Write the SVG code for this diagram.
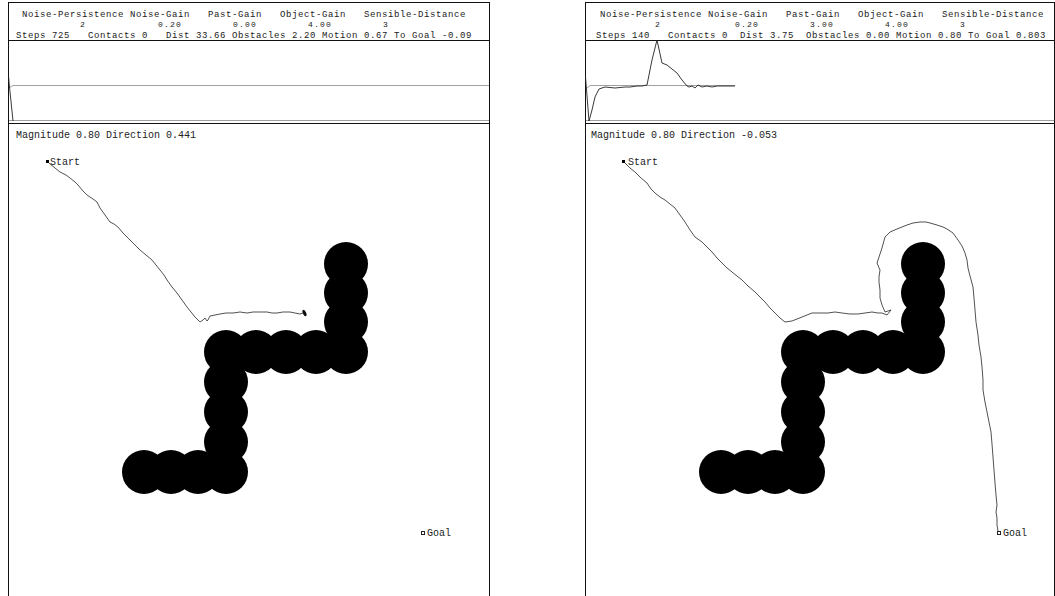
<svg xmlns="http://www.w3.org/2000/svg" width="1055" height="596" viewBox="0 0 1055 596">
<style>
.t{font-family:"Liberation Mono","DejaVu Sans Mono",monospace;font-size:10px;fill:#222;white-space:pre}
.h1{font-size:9px;letter-spacing:0.6px}
.h2{font-size:8px;letter-spacing:1.2px}
.h3{font-size:9px;letter-spacing:0.6px}
.frame{fill:none;stroke:#111;stroke-width:1}
.axis{fill:none;stroke:#a0a0a0;stroke-width:1}
.trace{fill:none;stroke:#222;stroke-width:0.9}
.path{fill:none;stroke:#333;stroke-width:0.85;stroke-linejoin:round}
.obs{fill:#000}
</style>
<defs>
<g id="obstacles">
<circle cx="346" cy="264" r="22"/><circle cx="346" cy="293" r="22"/><circle cx="346" cy="322" r="22"/><circle cx="346" cy="352" r="22"/>
<circle cx="316" cy="352" r="22"/><circle cx="286" cy="352" r="22"/><circle cx="256" cy="352" r="22"/><circle cx="226" cy="352" r="22"/>
<circle cx="226" cy="382" r="22"/><circle cx="226" cy="412" r="22"/><circle cx="226" cy="442" r="22"/><circle cx="226" cy="472" r="22"/>
<circle cx="198" cy="472" r="22"/><circle cx="171" cy="472" r="22"/><circle cx="144" cy="472" r="22"/>
</g>
</defs>
<rect width="1055" height="596" fill="#fff"/>

<g id="panel-left">
<rect class="frame" x="8.5" y="2.5" width="481" height="600"/>
<line class="frame" x1="8" y1="40.5" x2="490" y2="40.5"/>
<line class="frame" x1="8" y1="123.5" x2="490" y2="123.5"/>
<text class="t h1" x="22" y="17">Noise-Persistence Noise-Gain   Past-Gain   Object-Gain   Sensible-Distance</text>
<text class="t h2" x="80" y="26.5">2</text>
<text class="t h2" x="158" y="26.5">0.20</text>
<text class="t h2" x="233" y="26.5">0.00</text>
<text class="t h2" x="308" y="26.5">4.00</text>
<text class="t h2" x="383" y="26.5">3</text>
<text class="t h3" x="16" y="37.5">Steps 725   Contacts 0   Dist 33.66 Obstacles 2.20 Motion 0.67 To Goal -0.09</text>
<g id="graph-left">
<line class="axis" x1="9" y1="120.5" x2="489" y2="120.5"/>
<polyline class="axis" points="9,88 13,85.5 489,85.5"/>
<polyline class="trace" points="8.5,76 9.5,87 13,121"/>
</g>
<text class="t" x="16" y="138">Magnitude 0.80 Direction 0.441</text>
<use href="#obstacles" class="obs"/>
<g id="start-left"><rect x="46" y="160" width="3" height="3" fill="#000"/><text class="t" x="50" y="165">Start</text></g>
<g id="goal-left"><rect x="421.5" y="531.5" width="3" height="3" fill="none" stroke="#222" stroke-width="1"/><text class="t" x="427" y="536">Goal</text></g>
<polyline class="path" points="49,163 55,168 60,172 66,175 70,178 75,182 78,185 83,191 87,195 93,199 97,202 100,208 105,215 110,222 114,224 118,227 123,233 128,238 134,244 140,250 146,255 152,260 156,265 160,270 164,275 167,280 172,287 177,293 182,300 187,307 191,312 195,317 200,322 203,320 205,318 207,321 208,320 210,316 215,315 220,314 226,313 233,313 240,312 247,313 253,312 260,312 267,312 272,313 277,313 283,312 290,312 295,313 300,314 303,313"/>
<ellipse cx="304.5" cy="313" rx="1.6" ry="3.4" transform="rotate(-25 304.5 313)" fill="#111"/>
</g>

<g id="panel-right">
<rect class="frame" x="585.5" y="2.5" width="469" height="600"/>
<line class="frame" x1="585" y1="40.5" x2="1055" y2="40.5"/>
<line class="frame" x1="585" y1="123.5" x2="1055" y2="123.5"/>
<text class="t h1" x="600" y="17">Noise-Persistence Noise-Gain   Past-Gain   Object-Gain   Sensible-Distance</text>
<text class="t h2" x="655" y="26.5">2</text>
<text class="t h2" x="735" y="26.5">0.20</text>
<text class="t h2" x="810" y="26.5">3.00</text>
<text class="t h2" x="885" y="26.5">4.00</text>
<text class="t h2" x="960" y="26.5">3</text>
<text class="t h3" x="596" y="37.5">Steps 140   Contacts 0  Dist 3.75  Obstacles 0.00 Motion 0.80 To Goal 0.803</text>
<g id="graph-right">
<line class="axis" x1="586" y1="120.5" x2="1054" y2="120.5"/>
<polyline class="axis" points="587,88 590,85.5 735,85.5"/>
<polyline class="trace" points="585.5,77 589,121 592,110 595,97 599,89 605,87 615,88 625,87 630,87 637,86 642,86 647,85 652,60 657,40 662,63 667,65 672,69 677,73 682,80 687,86 689,87 692,86 695,88 698,85 702,87 707,86 712,87 717,86 722,86 728,86 735,86"/>
</g>
<text class="t" x="591" y="138">Magnitude 0.80 Direction -0.053</text>
<use href="#obstacles" class="obs" transform="translate(577 0)"/>
<g id="start-right"><rect x="622" y="160" width="3" height="3" fill="#000"/><text class="t" x="628" y="165">Start</text></g>
<g id="goal-right"><rect x="997.5" y="531.5" width="3" height="3" fill="none" stroke="#222" stroke-width="1"/><text class="t" x="1003" y="536">Goal</text></g>
<polyline class="path" points="625,163 630,168 635,172 641,178 647,183 651,189 655,193 660,197 665,200 670,204 675,208 680,215 685,222 690,230 695,237 702,242 707,247 712,252 717,258 722,263 727,268 732,272 737,276 742,280 748,286 755,292 760,297 765,302 770,308 775,313 780,318 785,322 792,321 797,319 802,317 807,315 812,313 820,313 828,313 835,312 842,313 850,314 858,314 865,313 872,312 878,313 882,313 887,315 891,310 885,312 882,305 880,298 880,290 879,282 879,277 880,270 877,263 879,257 882,248 885,237 890,232 897,229 902,227 907,225 913,223 920,222 926,222 930,223 937,225 943,227 947,229 953,233 958,240 962,246 965,253 967,260 968,268 970,276 973,287 974,298 975,310 976,322 978,335 979,345 981,357 982,367 983,380 983,390 985,402 987,412 989,422 991,432 992,444 993,457 994,470 995,483 996,495 997,505 996,512 997,518 997,525 998,531"/>
</g>
</svg>
